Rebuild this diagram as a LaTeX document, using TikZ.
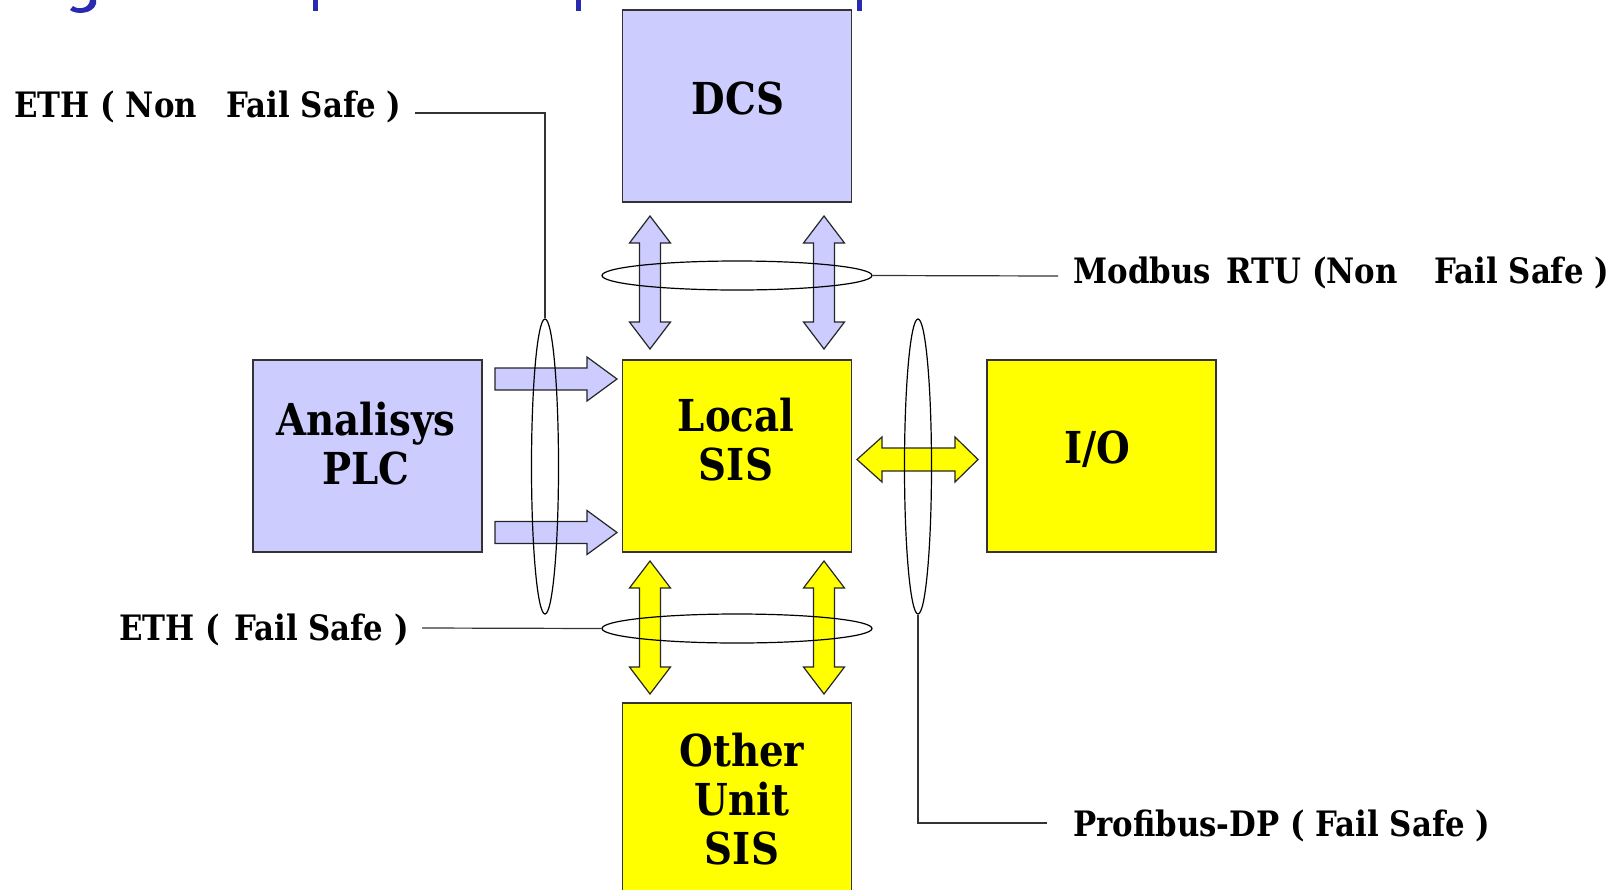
\documentclass[tikz,border=0pt]{standalone}
\usepackage{fontspec}
\setmainfont{DejaVu Serif}[FakeStretch=0.88]
\usetikzlibrary{shapes.geometric}
\definecolor{blueF}{HTML}{CCCCFF}
\definecolor{yelF}{HTML}{FFFF00}
\definecolor{titleblue}{HTML}{2A2AB0}
\newcommand\vdblarrow[4]{% cx, y1, y2, fill
  \filldraw[fill=#4, draw=black!85, line width=0.6pt, line join=miter]
  (#1,#2) -- ++(20.5,27) -- ++(-10,0) -- (#1+10.5,#3-27) -- ++(10,0) -- (#1,#3)
  -- (#1-20.5,#3-27) -- ++(10,0) -- (#1-10.5,#2+27) -- ++(-10,0) -- cycle;}
\newcommand\rgtarrow[3]{% x1, x2, cy
  \filldraw[fill=blueF, draw=black!85, line width=0.6pt, line join=miter]
  (#1,#3-11) -- (#2-30,#3-11) -- (#2-30,#3-22) -- (#2,#3) -- (#2-30,#3+22)
  -- (#2-30,#3+11) -- (#1,#3+11) -- cycle;}
\begin{document}
\begin{tikzpicture}[x=0.5pt,y=-0.5pt,
  box/.style={draw=black!80, line width=0.8pt, inner sep=0pt, minimum width=114.5pt, minimum height=96pt},
  bluebox/.style={box, fill=blueF},
  yelbox/.style={box, fill=yelF},
  boxtext/.style={font=\bfseries\fontsize{22}{24.5}\selectfont, align=center, inner sep=0pt},
  lbl/.style={font=\bfseries\fontsize{17.5}{20}\selectfont, inner sep=0pt, anchor=base west},
  ring/.style={draw=black, line width=0.6pt, ellipse, inner sep=0pt},
  wire/.style={draw=black!80, line width=0.6pt}
]
\useasboundingbox (0,0) rectangle (1614,890);
\fill[white] (0,0) rectangle (1614,890);
% clipped title descenders
\fill[titleblue] (313,0) rectangle (318,11);
\fill[titleblue] (576,0) rectangle (581,11);
\fill[titleblue] (857,0) rectangle (862,11);
\fill[titleblue] (96,0) -- (96,4) .. controls (93,14) and (76,15) .. (70,10) -- (73,6) .. controls (78,10) and (89,9) .. (90,0) -- cycle;
% boxes
\node[bluebox] (dcs) at (737,106) {};
\node[bluebox] (plc) at (367.5,456) {};
\node[yelbox] (sis) at (737,456) {};
\node[yelbox] (io) at (1101.5,456) {};
\node[yelbox] (oth) at (737,799) {};
\node[boxtext] (tdcs) at (738,98) {DCS};
\node[boxtext] (tplc) at (366,444) {Analisys\\PLC};
\node[boxtext] (tsis) at (736,440) {Local\\SIS};
\node[boxtext] (tio) at (1097,449) {I/O};
\node[boxtext] (toth) at (742,799) {Other\\Unit\\SIS};
% block arrows
\vdblarrow{650}{216}{349}{blueF}
\vdblarrow{824}{216}{349}{blueF}
\vdblarrow{650}{561}{694}{yelF}
\vdblarrow{824}{561}{694}{yelF}
\rgtarrow{495}{617}{379}
\rgtarrow{495}{617}{532.5}
\filldraw[fill=yelF, draw=black!85, line width=0.6pt, line join=miter]
  (857,459.5) -- (882,437) -- (882,448) -- (955,448) -- (955,437) -- (978,459.5)
  -- (955,482) -- (955,471) -- (882,471) -- (882,482) -- cycle;
% rings
\node[ring, minimum width=135pt, minimum height=14.5pt] (ringT) at (737,275.5) {};
\node[ring, minimum width=135pt, minimum height=14.5pt] (ringB) at (737,628.5) {};
\node[ring, minimum width=13.5pt, minimum height=147.5pt] (ringL) at (545,466.5) {};
\node[ring, minimum width=13.5pt, minimum height=147.5pt] (ringR) at (918,466.5) {};
% labels
\node[lbl] (lethn) at (14,117) {ETH ( Non\hspace{0.85em}Fail Safe )};
\node[lbl] (lmod) at (1073,283) {Modbus\hspace{0.45em}RTU (Non\hspace{1.05em}Fail Safe )};
\node[lbl] (leth) at (119,640) {ETH (\hspace{0.4em}Fail Safe )};
\node[lbl] (lpro) at (1073,836) {Profibus-DP ( Fail Safe )};
% leader lines
\coordinate (cethn) at (415,113);
\coordinate (cmod) at (1058,276);
\coordinate (ceth) at (422,628);
\coordinate (cpro) at (1047,823);
\draw[wire] (cethn) -| (ringL.north);
\draw[wire] (ringT.east) -- (cmod);
\draw[wire] (ceth) -- (ringB.west);
\draw[wire] (ringR.south) |- (cpro);
\end{tikzpicture}
\end{document}
